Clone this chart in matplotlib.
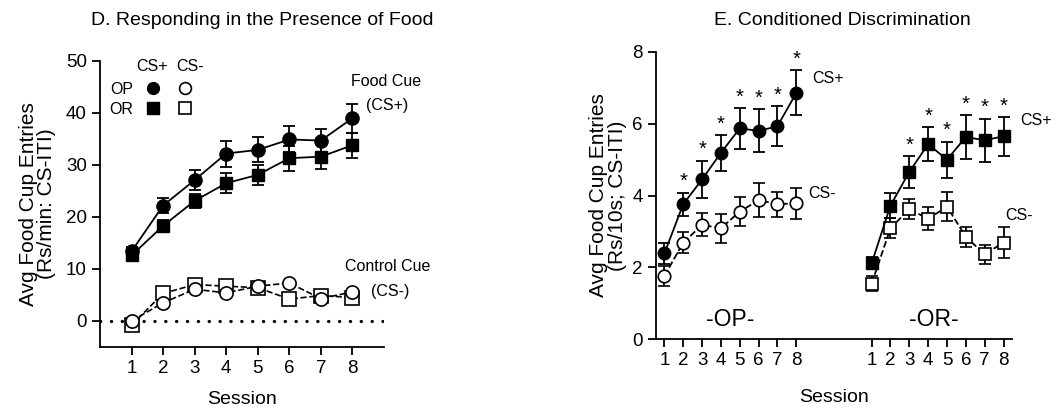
import numpy as np
import matplotlib.pyplot as plt
from matplotlib.lines import Line2D

plt.rcParams['font.family'] = ['Liberation Sans', 'DejaVu Sans']

# ---- data: panel D (Rs/min, CS-ITI) ----
sessions = np.arange(1, 9)
d_op_csp = [13.4, 22.2, 27.1, 32.2, 32.9, 34.9, 34.7, 39.0]
d_op_csp_err = [0.8, 1.4, 2.0, 2.5, 2.4, 2.5, 2.3, 2.8]
d_or_csp = [12.6, 18.3, 23.1, 26.5, 28.1, 31.3, 31.6, 33.8]
d_or_csp_err = [0.8, 1.2, 1.4, 1.9, 1.9, 2.4, 2.4, 2.4]
d_op_csm = [0.0, 3.5, 6.1, 5.4, 6.7, 7.3, 4.3, 5.6]
d_or_csm = [-0.8, 5.3, 7.0, 6.7, 6.4, 4.2, 4.9, 4.5]

# ---- data: panel E (Rs/10s, CS-ITI) ----
e_op_csp = [2.39, 3.76, 4.45, 5.19, 5.87, 5.80, 5.93, 6.86]
e_op_csp_err = [0.30, 0.32, 0.52, 0.50, 0.57, 0.60, 0.56, 0.63]
e_op_csm = [1.76, 2.69, 3.18, 3.09, 3.55, 3.87, 3.76, 3.78]
e_op_csm_err = [0.27, 0.30, 0.32, 0.40, 0.40, 0.47, 0.35, 0.44]
e_or_csp = [2.11, 3.72, 4.66, 5.43, 5.00, 5.63, 5.54, 5.65]
e_or_csp_err = [0.17, 0.36, 0.44, 0.48, 0.50, 0.60, 0.60, 0.54]
e_or_csm = [1.54, 3.09, 3.62, 3.35, 3.69, 2.85, 2.36, 2.69]
e_or_csm_err = [0.21, 0.28, 0.28, 0.32, 0.40, 0.28, 0.26, 0.42]
e_op_sig = [False, True, True, True, True, True, True, True]
e_or_sig = [False, False, True, True, True, True, True, True]

tick_labels = [str(s) for s in sessions]

fig = plt.figure(figsize=(10.58, 4.09), dpi=100)

# ================= Panel D =================
ax1 = fig.add_axes([0.0945, 0.1516, 0.2685, 0.6994])
eb = dict(color='black', lw=1.3, capsize=4, capthick=1.3, elinewidth=1.3)
ax1.errorbar(sessions, d_op_csp, yerr=d_op_csp_err, marker='o', ms=9.5,
             mfc='black', mec='black', ls='-', zorder=4, **eb)
ax1.errorbar(sessions, d_or_csp, yerr=d_or_csp_err, marker='s', ms=9,
             mfc='black', mec='black', ls='-', zorder=3, **eb)
ax1.plot(sessions, d_or_csm, marker='s', ms=9.5, mfc='white', mec='black',
         mew=1.2, color='black', lw=1.2, ls='--', zorder=3)
ax1.plot(sessions, d_op_csm, marker='o', ms=9.5, mfc='white', mec='black',
         mew=1.2, color='black', lw=1.2, ls='--', zorder=4)
ax1.plot([0, 9], [0, 0], color='black', ls=(0, (0.1, 3.3)), lw=2.3,
         dash_capstyle='round', zorder=1)

ax1.set_xlim(0, 9)
ax1.set_ylim(-5, 50)
ax1.set_yticks([0, 10, 20, 30, 40, 50])
ax1.set_xticks(sessions)
ax1.set_xticklabels(tick_labels)
ax1.spines['top'].set_visible(False)
ax1.spines['right'].set_visible(False)
for s in ['left', 'bottom']:
    ax1.spines[s].set_linewidth(1.3)
ax1.tick_params(direction='out', length=6, width=1.3, labelsize=13.5)
ax1.set_ylabel('Avg Food Cup Entries\n(Rs/min: CS-ITI)', fontsize=15,
               labelpad=7, linespacing=0.95)
ax1.set_xlabel('Session', fontsize=14, labelpad=10)

# legend grid
h_op_p = Line2D([], [], marker='o', ls='none', ms=8.5, mfc='black', mec='black')
h_or_p = Line2D([], [], marker='s', ls='none', ms=8, mfc='black', mec='black')
h_op_m = Line2D([], [], marker='o', ls='none', ms=8.5, mfc='white', mec='black', mew=1.2)
h_or_m = Line2D([], [], marker='s', ls='none', ms=8, mfc='white', mec='black', mew=1.2)
leg = ax1.legend([h_op_p, h_or_p, h_op_m, h_or_m], ['OP', 'OR', '', ''],
                 ncol=2, markerfirst=False, frameon=False, fontsize=11.5,
                 loc='upper left', bbox_to_anchor=(0.0, 0.96),
                 handletextpad=0.5, columnspacing=0.0, labelspacing=0.3,
                 handlelength=1.5, borderaxespad=0.2)
ax1.text(0.183, 0.98, 'CS+', transform=ax1.transAxes, fontsize=11.5,
         ha='center', va='center')
ax1.text(0.317, 0.98, 'CS-', transform=ax1.transAxes, fontsize=11.5,
         ha='center', va='center')

ax1.text(9.05, 46.0, 'Food Cue', fontsize=11.5, ha='center', va='center')
ax1.text(9.1, 41.4, '(CS+)', fontsize=11.5, ha='center', va='center')
ax1.text(9.1, 10.5, 'Control Cue', fontsize=11.5, ha='center', va='center')
ax1.text(9.2, 5.7, '(CS-)', fontsize=11.5, ha='center', va='center')

fig.text(0.248, 0.951, 'D. Responding in the Presence of Food', fontsize=14,
         ha='center', va='center')

# ================= Panel E =================
ax2 = fig.add_axes([0.620, 0.171, 0.3365, 0.702])
op_x = sessions
or_x = sessions + 11

ax2.errorbar(op_x, e_op_csm, yerr=e_op_csm_err, marker='o', ms=9,
             mfc='white', mec='black', mew=1.2, ls='--', zorder=3, **eb)
ax2.errorbar(op_x, e_op_csp, yerr=e_op_csp_err, marker='o', ms=9,
             mfc='black', mec='black', ls='-', zorder=4, **eb)
ax2.errorbar(or_x, e_or_csm, yerr=e_or_csm_err, marker='s', ms=8.5,
             mfc='white', mec='black', mew=1.2, ls='--', zorder=3, **eb)
ax2.errorbar(or_x, e_or_csp, yerr=e_or_csp_err, marker='s', ms=8.5,
             mfc='black', mec='black', ls='-', zorder=4, **eb)

for xs, ys, es, sig in [(op_x, e_op_csp, e_op_csp_err, e_op_sig),
                        (or_x, e_or_csp, e_or_csp_err, e_or_sig)]:
    for x, y, e, s in zip(xs, ys, es, sig):
        if s:
            ax2.annotate('*', (x, y + e), xytext=(0, 1), textcoords='offset points',
                         ha='center', va='bottom', fontsize=14.5)

ax2.set_xlim(0.55, 19.45)
ax2.set_ylim(0, 8)
ax2.set_yticks([0, 2, 4, 6, 8])
ax2.set_xticks(list(op_x) + list(or_x))
ax2.set_xticklabels(tick_labels + tick_labels)
ax2.spines['top'].set_visible(False)
ax2.spines['right'].set_visible(False)
for s in ['left', 'bottom']:
    ax2.spines[s].set_linewidth(1.3)
ax2.tick_params(direction='out', length=6, width=1.3, labelsize=13.5)
ax2.tick_params(axis='x', pad=3)
ax2.set_ylabel('Avg Food Cup Entries\n(Rs/10s; CS-ITI)', fontsize=15,
               labelpad=4, linespacing=0.95)
ax2.set_xlabel('Session', fontsize=14, labelpad=15)

ax2.text(9.7, 7.25, 'CS+', fontsize=11.5, ha='center', va='center')
ax2.text(9.35, 4.05, 'CS-', fontsize=11.5, ha='center', va='center')
ax2.text(20.7, 6.1, 'CS+', fontsize=11.5, ha='center', va='center')
ax2.text(19.85, 3.45, 'CS-', fontsize=11.5, ha='center', va='center')
ax2.text(4.5, 0.55, '-OP-', fontsize=16.5, ha='center', va='center')
ax2.text(15.3, 0.55, '-OR-', fontsize=16.5, ha='center', va='center')

fig.text(0.796, 0.951, 'E. Conditioned Discrimination', fontsize=14,
         ha='center', va='center')

fig.savefig('out.png', dpi=100)
